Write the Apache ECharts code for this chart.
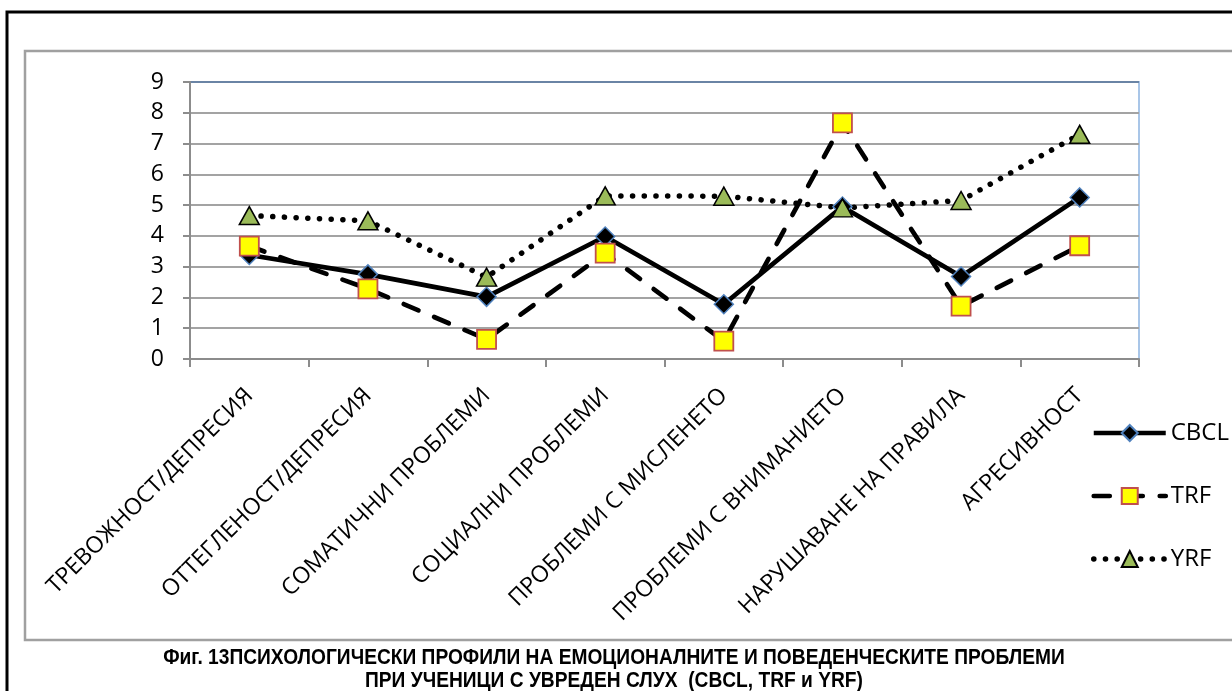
<!DOCTYPE html>
<html>
<head>
<meta charset="utf-8">
<script src="https://cdn.jsdelivr.net/npm/echarts@6/dist/echarts.min.js"></script>
<style>
  html, body { margin: 0; padding: 0; background: #fff; }
  #chart { width: 1232px; height: 691px; }
</style>
</head>
<body>
<div id="chart"></div>
<script>
// Scale categories (CBCL / TRF / YRF syndrome scales)
const categories = [
  'ТРЕВОЖНОСТ/ДЕПРЕСИЯ',
  'ОТТЕГЛЕНОСТ/ДЕПРЕСИЯ',
  'СОМАТИЧНИ ПРОБЛЕМИ',
  'СОЦИАЛНИ ПРОБЛЕМИ',
  'ПРОБЛЕМИ С МИСЛЕНЕТО',
  'ПРОБЛЕМИ С ВНИМАНИЕТО',
  'НАРУШАВАНЕ НА ПРАВИЛА',
  'АГРЕСИВНОСТ'
];

// Mean scores per instrument
const cbclValues = [3.38, 2.75, 2.02, 3.98, 1.78, 4.95, 2.68, 5.25];
const trfValues  = [3.67, 2.28, 0.64, 3.44, 0.58, 7.67, 1.72, 3.68];
const yrfValues  = [4.66, 4.49, 2.66, 5.30, 5.29, 4.91, 5.15, 7.30];

const seriesNames = ['CBCL', 'TRF', 'YRF'];

const titleLines = [
  'Фиг. 13ПСИХОЛОГИЧЕСКИ ПРОФИЛИ НА ЕМОЦИОНАЛНИТЕ И ПОВЕДЕНЧЕСКИТЕ ПРОБЛЕМИ',
  'ПРИ УЧЕНИЦИ С УВРЕДЕН СЛУХ  (CBCL, TRF и YRF)'
];

const FONT = '"Open Sans", "Noto Sans", sans-serif';
const TITLE_FONT = 'bold 22px "Liberation Sans", Arial, sans-serif';

// line styles shared by series and their legend icons
const cbclLine = { color: '#000', width: 4.7, type: 'solid' };
const trfLine  = { color: '#000', width: 4.7, type: [16, 17], cap: 'round' };
const yrfLine  = { color: '#000', width: 5.5, type: [0.1, 11.6], cap: 'round' };

const chart = echarts.init(document.getElementById('chart'), null, { renderer: 'canvas' });

const gridColors = [];
for (let i = 0; i < 9; i++) gridColors.push('#a3a3a3');
gridColors.push('#6a84a5');

const option = {
  backgroundColor: '#ffffff',
  animation: false,
  graphic: [
    {
      type: 'rect', silent: true, z: -10,
      shape: { x: 7, y: 12, width: 1300, height: 800 },
      style: { fill: 'none', stroke: '#000', lineWidth: 3 }
    },
    {
      type: 'rect', silent: true, z: -9,
      shape: { x: 25, y: 51, width: 1300, height: 589 },
      style: { fill: 'none', stroke: '#a0a0a0', lineWidth: 2.5 }
    },
    {
      type: 'text', silent: true,
      x: 614, y: 658, scaleX: 0.872,
      style: {
        text: titleLines[0], font: TITLE_FONT,
        fill: '#000', align: 'center', verticalAlign: 'middle'
      }
    },
    {
      type: 'text', silent: true,
      x: 614, y: 681, scaleX: 0.872,
      style: {
        text: titleLines[1], font: TITLE_FONT,
        fill: '#000', align: 'center', verticalAlign: 'middle'
      }
    }
  ],
  grid: {
    left: 190, top: 82, right: 93, bottom: 332,
    show: true, borderColor: '#a9c6e8', borderWidth: 2, backgroundColor: 'transparent'
  },
  legend: {
    orient: 'vertical',
    left: 1091, top: 421,
    itemWidth: 72, itemHeight: 20, itemGap: 39,
    itemGap: 39,
    padding: 0,
    textStyle: { fontFamily: FONT, fontSize: 24, color: '#000' },
    data: [
      { name: seriesNames[0], lineStyle: cbclLine },
      { name: seriesNames[1], lineStyle: trfLine },
      { name: seriesNames[2], lineStyle: yrfLine }
    ]
  },
  xAxis: {
    type: 'category',
    data: categories,
    boundaryGap: true,
    axisLine: { lineStyle: { color: '#8c8c8c', width: 2 } },
    axisTick: { show: true, interval: 0, length: 8, lineStyle: { color: '#8c8c8c', width: 2 } },
    axisLabel: {
      interval: 0, rotate: 45, margin: 33,
      fontFamily: FONT, fontSize: 23, color: '#000'
    },
    splitLine: { show: false }
  },
  yAxis: {
    type: 'value',
    min: 0, max: 9, interval: 1,
    axisLine: { show: true, lineStyle: { color: '#8c8c8c', width: 2 } },
    axisTick: { show: true, length: 7, lineStyle: { color: '#8c8c8c', width: 2 } },
    axisLabel: { margin: 26, fontFamily: FONT, fontSize: 23, color: '#000' },
    splitLine: { show: true, lineStyle: { color: gridColors, width: 2 } }
  },
  series: [
    {
      name: seriesNames[0],
      type: 'line',
      data: cbclValues,
      symbol: 'diamond',
      symbolSize: 19,
      lineStyle: cbclLine,
      itemStyle: { color: '#000', borderColor: '#4f81bd', borderWidth: 1.5 }
    },
    {
      name: seriesNames[1],
      type: 'line',
      data: trfValues,
      symbol: 'rect',
      symbolSize: 19,
      lineStyle: trfLine,
      itemStyle: { color: '#ffff00', borderColor: '#c0504d', borderWidth: 1.8 }
    },
    {
      name: seriesNames[2],
      type: 'line',
      data: yrfValues,
      symbol: 'triangle',
      symbolSize: [20, 18],
      lineStyle: yrfLine,
      itemStyle: { color: '#9bbb59', borderColor: '#000', borderWidth: 1.5 }
    }
  ]
};

chart.setOption(option);
</script>
</body>
</html>
